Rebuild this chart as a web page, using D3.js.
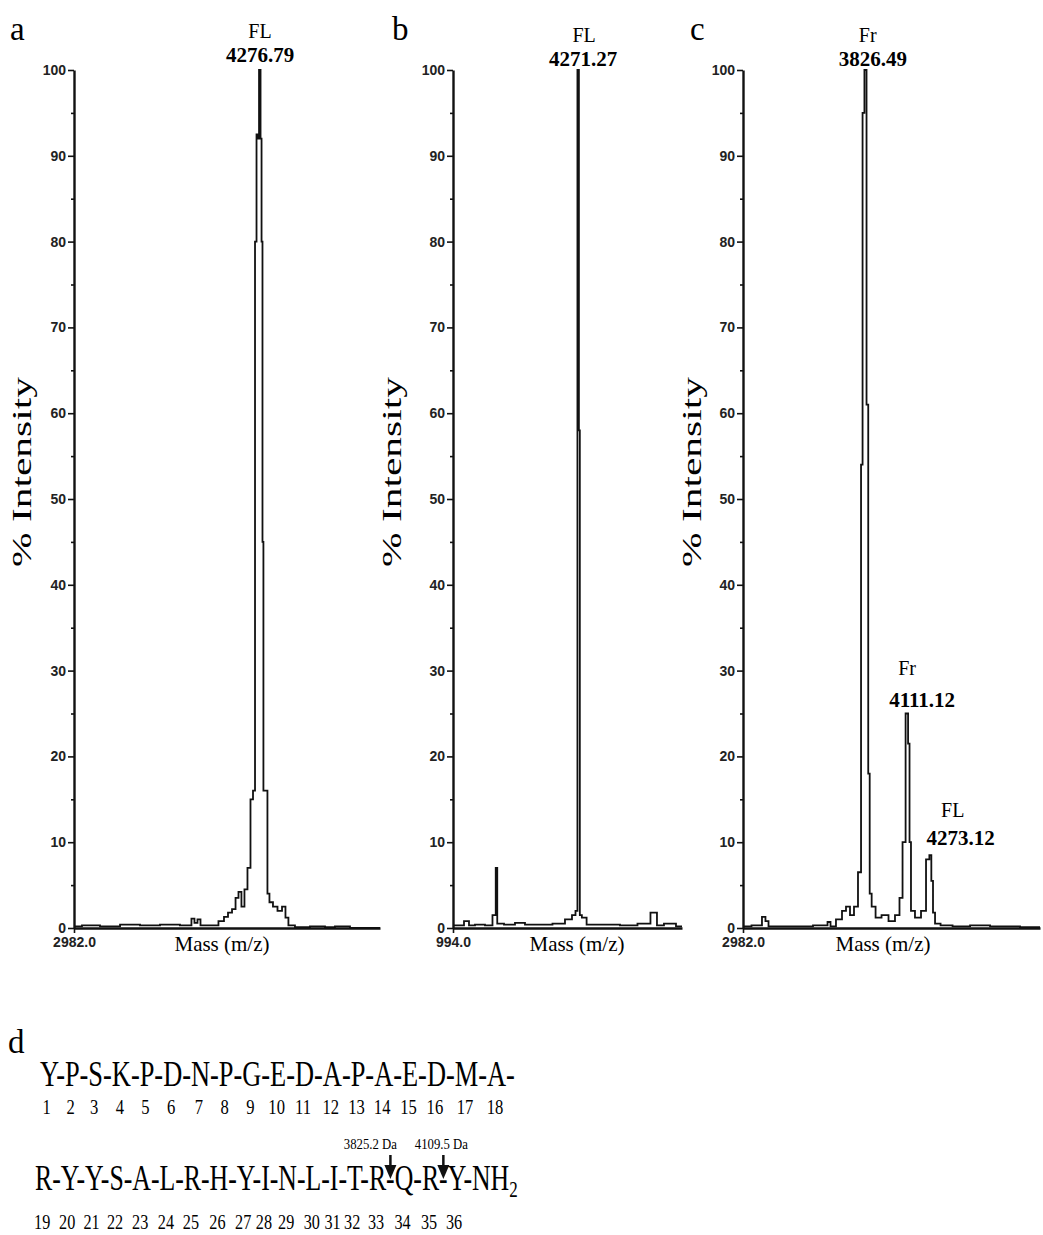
<!DOCTYPE html>
<html><head><meta charset="utf-8">
<script src="https://cdn.jsdelivr.net/npm/d3@7"></script>
<style>body{margin:0;background:#fff}</style>
</head><body>
<svg id="c" width="1043" height="1235"></svg>
<script>
// ---------- data ----------
const yTicks = [0,10,20,30,40,50,60,70,80,90,100];
const yMinorTicks = [5,15,25,35,45,55,65,75,85,95];

// panel a spectrum (m/z, % intensity)
const aMz  = [2982,3093,3233,3372,3511,3650,3789,3810,3831,3852,3873,3963,4012,4040,4068,4096,4117,4137,4158,4179,4200,4221,4235,4249,4256,4263,4277,4284,4291,4297,4304,4325,4332,4353,4381,4416,4444,4464,4485,4555,4694,4764,4833,4973,5112];
const aInt = [0.2,0.3,0.2,0.4,0.3,0.4,0.3,1.1,0.6,1.0,0.3,0.3,0.8,1.3,1.8,2.2,3.5,4.2,2.5,4.5,7,15,16,80,92.5,92,100,92,80,45,16,16,4,3,2.5,2,2.5,1.2,0.3,0.1,0.2,0.1,0.2,0,0];
// panel b spectrum
const bMz  = [994,1177,1387,1439,1701,1963,2094,2134,2173,2487,2749,3011,3404,3797,4059,4164,4243,4266,4285,4300,4334,4406,4583,5107,5631,6024,6312,6364,6679,6994];
const bInt = [0.3,0.3,0.8,0.3,0.4,0.3,1.5,7,0.5,0.4,0.6,0.4,0.4,0.5,1.0,1.5,2.0,100,100,58,1.5,1.2,0.4,0.4,0.3,0.5,1.8,0.3,0.5,0.2];
// panel c spectrum
const cMz  = [2982,3099,3126,3147,3168,3374,3553,3574,3594,3649,3677,3704,3732,3759,3787,3801,3808,3826.5,3837,3850,3857,3877,3911,3959,4007,4048,4069,4090,4111,4124,4131,4144,4186,4227,4255,4273,4282,4296,4310,4372,4475,4613,4750,5025];
const cInt = [0.2,0.3,1.3,0.8,0.2,0.2,0.3,0.7,0.2,1.0,2.0,2.5,1.5,2.5,6.5,54,95,100,61,18,4,2.5,1.2,1.5,0.8,1.5,3.5,10,25,21.5,10,2.0,1.2,2.0,8,8.5,5.5,1.8,0.5,0.3,0.2,0.3,0.2,0.1];

const panelNames = ["a","b","c"];
const xStartValues = [2982.0, 994.0, 2982.0];
const xEndValues = [5112, 6994, 5025];
const xStartLabels = ["2982.0","994.0","2982.0"];

// peak annotations
const peakNames  = [["FL"],["FL"],["Fr","Fr","FL"]];
const peakValues = [["4276.79"],["4271.27"],["3826.49","4111.12","4273.12"]];
const peakMz     = [[4276.79],[4271.27],[3826.49,4111.12,4273.12]];
const peakTops   = [[100],[100],[100,25,8.5]];

// sequence (panel d)
const seqLine1 = ["Y","P","S","K","P","D","N","P","G","E","D","A","P","A","E","D","M","A"];
const seqLine2 = ["R","Y","Y","S","A","L","R","H","Y","I","N","L","I","T","R","Q","R","Y"];
const cleavageAfter = [33, 35];
const cleavageLabels = ["3825.2 Da","4109.5 Da"];

// ---------- drawing ----------
const svg = d3.select("#c");
svg.append("rect").attr("width",1043).attr("height",1235).attr("fill","#fff");
const SERIF = "'Liberation Serif','Times New Roman',serif";
const NARROW = "'Liberation Sans Narrow','Arial Narrow','Liberation Sans',sans-serif";

const y = d3.scaleLinear().domain([0,100]).range([928,70]);

const layout = [
  {x0:74,  x1:380,  letterX:10,  ylabX:31,  massX:222},
  {x0:453, x1:682,  letterX:392, ylabX:401, massX:577},
  {x0:743, x1:1040, letterX:690, ylabX:701, massX:883}
];
const spectra = [[aMz,aInt],[bMz,bInt],[cMz,cInt]];
// label placement (style): offsets from the peak top
const labelStyle = [
  [{ndx:0,vdx:0,vdy:-8,ndy:-32}],
  [{ndx:6,vdx:5,vdy:-4,ndy:-28}],
  [{ndx:2,vdx:7,vdy:-4,ndy:-28},{ndx:0,vdx:15,vdy:-7,ndy:-39},{ndx:22,vdx:30,vdy:-10,ndy:-38}]
];

layout.forEach((L,i)=>{
  const g = svg.append("g");
  const x = d3.scaleLinear().domain([xStartValues[i], xEndValues[i]]).range([L.x0, L.x1]);

  // spectrum
  const [mz, it] = spectra[i];
  const pts = mz.map((m,k)=>[m,it[k]]);
  const line = d3.line().x(d=>x(d[0])).y(d=>y(d[1])).curve(d3.curveStep);
  g.append("path").attr("d", line(pts)).attr("fill","none")
    .attr("stroke","#111").attr("stroke-width",1.8).attr("stroke-linejoin","miter");

  // y axis
  const ya = g.append("g").attr("transform",`translate(${L.x0},0)`)
    .call(d3.axisLeft(y).tickValues(yTicks).tickSize(6).tickSizeOuter(0).tickPadding(2));
  ya.select(".domain").attr("stroke","#111").attr("stroke-width",2.4);
  ya.selectAll(".tick line").attr("stroke","#111").attr("stroke-width",1.6);
  ya.selectAll(".tick text").attr("font-family",NARROW).attr("font-weight","bold")
    .attr("font-size",14).attr("fill","#222");
  const ym = g.append("g").attr("transform",`translate(${L.x0},0)`)
    .call(d3.axisLeft(y).tickValues(yMinorTicks).tickSize(3).tickFormat(""));
  ym.select(".domain").remove();
  ym.selectAll(".tick line").attr("stroke","#111").attr("stroke-width",1.6);

  // x axis
  const xa = g.append("g").attr("transform",`translate(0,${y(0)})`)
    .call(d3.axisBottom(x).tickValues([xStartValues[i]]).tickSize(5).tickSizeOuter(0)
      .tickFormat(()=>xStartLabels[i]).tickPadding(4));
  xa.select(".domain").attr("stroke","#111").attr("stroke-width",2.4);
  xa.selectAll(".tick line").attr("stroke","#111").attr("stroke-width",1.6);
  xa.selectAll(".tick text").attr("font-family",NARROW).attr("font-weight","bold")
    .attr("font-size",14).attr("fill","#222");

  g.append("text").text("Mass (m/z)").attr("x",L.massX).attr("y",951)
    .attr("text-anchor","middle").attr("font-family",SERIF).attr("font-size",21);

  // y label
  g.append("text").text("% Intensity")
    .attr("transform",`translate(${L.ylabX},472) rotate(-90)`)
    .attr("text-anchor","middle").attr("font-family",SERIF).attr("font-size",27)
    .attr("textLength",190).attr("lengthAdjust","spacingAndGlyphs");

  // panel letter
  g.append("text").text(panelNames[i]).attr("x",L.letterX).attr("y",40)
    .attr("font-family",SERIF).attr("font-size",33);

  // peak labels
  peakMz[i].forEach((m,k)=>{
    const st = labelStyle[i][k];
    const px = x(m), top = y(peakTops[i][k]);
    g.append("text").text(peakNames[i][k]).attr("x",px+st.ndx).attr("y",top+st.ndy)
      .attr("text-anchor","middle").attr("font-family",SERIF).attr("font-size",20);
    g.append("text").text(peakValues[i][k]).attr("x",px+st.vdx).attr("y",top+st.vdy)
      .attr("text-anchor","middle").attr("font-family",SERIF).attr("font-weight","bold")
      .attr("font-size",21);
  });
});

// ---------- panel d ----------
svg.append("text").text("d").attr("x",8).attr("y",1053)
  .attr("font-family",SERIF).attr("font-size",33);

function drawSeq(residues, startNum, x0, targetW, yBase, yNum, withNH2){
  const g = svg.append("g");
  const t = g.append("text").attr("x",0).attr("y",yBase)
    .attr("font-family",SERIF).attr("font-size",35);
  t.append("tspan").text(residues.join("-") + (withNH2 ? "-NH" : "-"));
  if (withNH2) t.append("tspan").text("2").attr("font-size",23).attr("dy",7);
  const w = t.node().getComputedTextLength();
  const sx = targetW / w;
  g.attr("transform",`translate(${x0},0) scale(${sx},1)`);
  const centers = residues.map((r,k)=>{
    const e = t.node().getExtentOfChar(2*k);
    return e.x + e.width/2;
  });
  residues.forEach((r,k)=>{
    g.append("text").text(startNum+k).attr("x",centers[k]-2).attr("y",yNum)
      .attr("text-anchor","middle").attr("font-family",SERIF).attr("font-size",22);
  });
  const hyphen = k => { const e = t.node().getExtentOfChar(2*k+1); return x0 + sx*(e.x+e.width/2); };
  return {hyphen};
}
drawSeq(seqLine1, 1, 40, 475, 1086, 1114, false);
const s2 = drawSeq(seqLine2, 19, 35, 483, 1190, 1229, true);

const labelShift = [-20, -2];
cleavageAfter.forEach((n,k)=>{
  const idx = n - 19; // index within line 2
  const hx = s2.hyphen(idx);
  svg.append("line").attr("x1",hx).attr("x2",hx).attr("y1",1155).attr("y2",1168)
    .attr("stroke","#111").attr("stroke-width",2.5);
  svg.append("path").attr("d",`M${hx-6},${1165}L${hx+6},${1165}L${hx},${1179}Z`).attr("fill","#111");
  const lx = hx + labelShift[k];
  svg.append("text").text(cleavageLabels[k]).attr("x",lx).attr("y",1149)
    .attr("text-anchor","middle").attr("font-family",SERIF).attr("font-size",15)
    .attr("transform",`translate(${lx},0) scale(0.85,1) translate(${-lx},0)`);
});
</script>
</body></html>
